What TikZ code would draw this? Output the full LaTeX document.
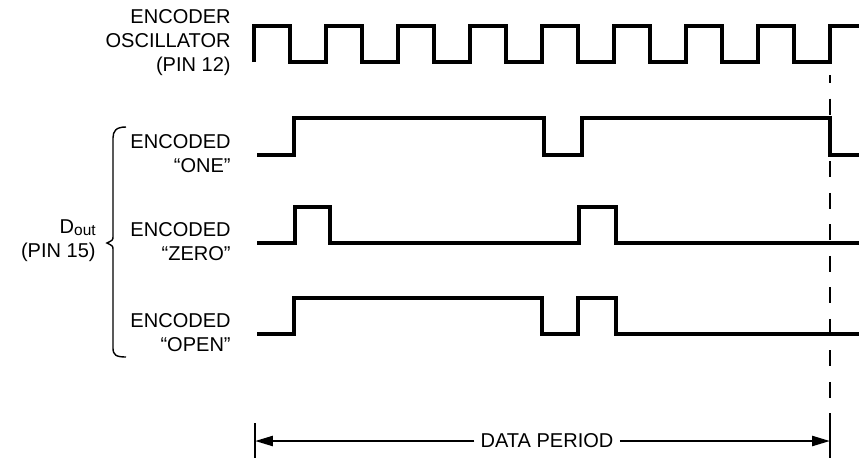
\documentclass[tikz,border=0pt]{standalone}
\usepackage{fontspec}
\setmainfont{Liberation Sans}
\usetikzlibrary{arrows.meta}
\usetikzlibrary{positioning}

\begin{document}
\begin{tikzpicture}[x=0.02cm,y=-0.02cm,
    wave/.style={line width=0.062cm,line join=miter},
    thinline/.style={line width=0.028cm}]
  \useasboundingbox (0,0) rectangle (859,458);
  \begin{scope}[every node/.style={anchor=east,align=right,inner sep=0pt,font=\fontsize{11.4}{13.7}\selectfont}]
    \node (osc) at (231,43) {ENCODER\\OSCILLATOR\\(PIN 12)};
    \node (one) at (231,154) {ENCODED\\“ONE”};
    \node (zero) at (231,242) {ENCODED\\“ZERO”};
    \node (open) at (231,333) {ENCODED\\“OPEN”};
    \node (dout) at (96,241) {D\raisebox{-0.08em}{\fontsize{8.8}{10}\selectfont out}\\(PIN 15)};
  \end{scope}
  % waveforms
  \draw[wave] (254,62) -- (254,26)
    \foreach \k in {1,...,8} { -- ++(36,0) -- ++(0,36) -- ++(36,0) -- ++(0,-36) } -- (859,26);
  \draw[wave] (257,155) -- (294,155) -- (294,118) -- (544,118) -- (544,155) -- (582,155)
    -- (582,118) -- (830,118) -- (830,155) -- (859,155);
  \draw[wave] (257,243) -- (295,243) -- (295,207) -- (330,207) -- (330,243) -- (579,243)
    -- (579,207) -- (616,207) -- (616,243) -- (859,243);
  \draw[wave] (257,334) -- (294,334) -- (294,298) -- (542,298) -- (542,334) -- (578,334)
    -- (578,298) -- (616,298) -- (616,334) -- (859,334);
  \draw[line width=0.04cm,dash pattern=on 0.32cm off 0.31cm,dash phase=0.16cm] (830,75) -- (830,423);
  % brace
  \draw[thinline] (126,127) .. controls (116,127) and (113,131) .. (113,138) -- (113,236)
    .. controls (113,240) .. (107,243) .. controls (113,246) .. (113,250) -- (113,348)
    .. controls (113,355) and (116,357) .. (126,357);
  % data period
  \coordinate (lbar) at (255,441);
  \coordinate (rbar) at (830,441);
  \draw[thinline] (255,423) -- (255,458);
  \draw[thinline] (830,423) -- (830,458);
  \node[fill=white,inner xsep=0.12cm,inner ysep=0pt,font=\fontsize{11.4}{13.7}\selectfont] (period) at (547,441) {DATA PERIOD};
  \draw[line width=0.05cm,-{Triangle[length=0.36cm,width=0.2cm]}] (period) -- (lbar);
  \draw[line width=0.05cm,-{Triangle[length=0.36cm,width=0.2cm]}] (period) -- (rbar);
\end{tikzpicture}
\end{document}
